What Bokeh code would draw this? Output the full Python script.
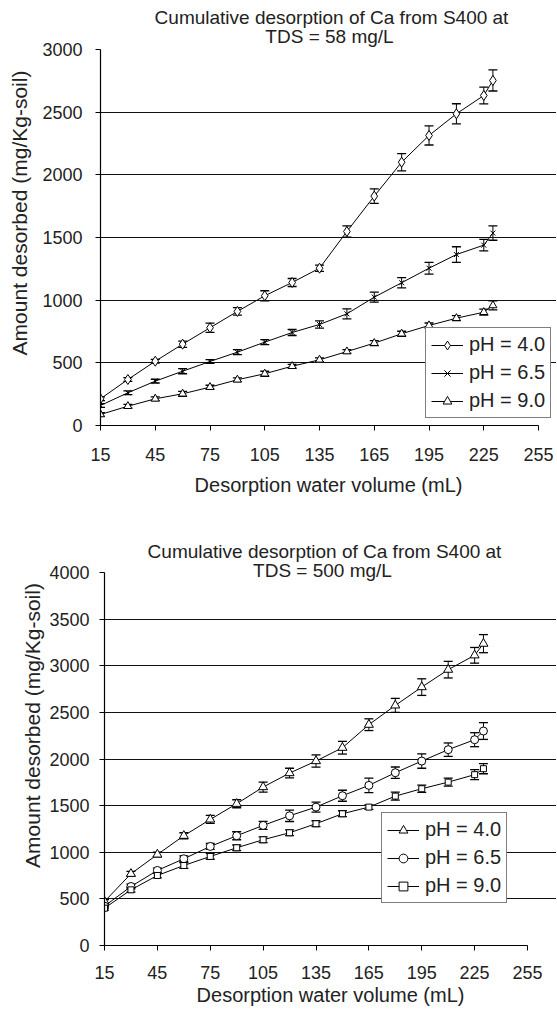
from bokeh.plotting import figure
from bokeh.models import (Range1d, FixedTicker, Whisker, TeeHead, ColumnDataSource,
                          Legend, LegendItem, Label, Title)
from bokeh.layouts import column
from bokeh.embed import file_html
from bokeh.resources import INLINE

FONT = "Liberation Sans"

# ---------------- data ----------------
volume = [15, 30, 45, 60, 75, 90, 105, 120, 135, 150, 165, 180, 195, 210, 225, 230]
x_ticks = [15, 45, 75, 105, 135, 165, 195, 225, 255]
labels = ["pH = 4.0", "pH = 6.5", "pH = 9.0"]

# TDS = 58 mg/L
top_ph40 = [213, 367, 513, 649, 780, 910, 1035, 1141, 1255, 1548, 1830, 2101, 2314, 2487, 2633, 2753]
top_ph40_err = [15, 15, 15, 25, 37, 30, 40, 32, 25, 45, 58, 69, 76, 80, 67, 84]
top_ph65 = [160, 261, 354, 433, 511, 585, 665, 742, 806, 891, 1024, 1139, 1255, 1364, 1439, 1535]
top_ph65_err = [15, 15, 15, 20, 15, 20, 20, 24, 29, 40, 40, 41, 47, 62, 46, 57]
top_ph90 = [88, 154, 213, 253, 306, 365, 413, 473, 524, 590, 657, 732, 798, 856, 904, 958]
top_ph90_err = [15, 15, 15, 20, 15, 15, 20, 15, 15, 15, 20, 20, 20, 20, 24, 36]
top_y_ticks = [0, 500, 1000, 1500, 2000, 2500, 3000]
top_grid = [500, 1000, 1500, 2000, 2500]

# TDS = 500 mg/L
bot_ph40 = [472, 769, 976, 1177, 1352, 1520, 1699, 1849, 1978, 2121, 2368, 2575, 2771, 2958, 3112, 3237]
bot_ph40_err = [20, 25, 25, 32, 43, 43, 54, 52, 66, 68, 63, 75, 89, 89, 84, 97]
bot_ph65 = [422, 633, 805, 930, 1062, 1177, 1288, 1391, 1484, 1606, 1717, 1853, 1978, 2100, 2207, 2300]
bot_ph65_err = [20, 25, 25, 32, 32, 43, 43, 61, 54, 59, 77, 61, 77, 72, 75, 90]
bot_ph90 = [400, 597, 751, 858, 955, 1048, 1134, 1209, 1306, 1413, 1484, 1602, 1681, 1752, 1832, 1896]
bot_ph90_err = [20, 25, 25, 30, 30, 30, 30, 30, 32, 32, 25, 43, 38, 43, 54, 54]
bot_y_ticks = [0, 500, 1000, 1500, 2000, 2500, 3000, 3500, 4000]
bot_grid = [500, 1000, 1500, 2000, 2500, 3000, 3500]


def make_chart(cfg):
    W = 556
    # plot area of the axes: left/right/top/bottom pixel edges inside the figure
    ax_l, ax_r, ax_t, ax_b = cfg["axes_px"]
    ymax = cfg["yticks"][-1]
    xr = 255 - 15
    x_end = 255 + (W - ax_r) * xr / (ax_r - ax_l)
    y_end = ymax + ax_t * ymax / (ax_b - ax_t)
    p = figure(width=W, height=cfg["height"], title=None,
               min_border_left=ax_l, min_border_right=0,
               min_border_top=0, min_border_bottom=cfg["height"] - ax_b,
               x_range=Range1d(15, x_end), y_range=Range1d(0, y_end),
               output_backend="svg", toolbar_location=None)
    p.frame_align = False
    p.outline_line_color = None
    p.background_fill_color = "white"
    p.border_fill_color = "white"
    p.xgrid.visible = False
    p.ygrid.ticker = FixedTicker(ticks=cfg["grid"])
    p.ygrid.grid_line_color = "#111111"
    p.ygrid.grid_line_width = 1.1
    p.ygrid.bounds = (15, 255)

    for ax in (p.xaxis, p.yaxis):
        ax.axis_line_color = "black"
        ax.axis_line_width = 1.2
        ax.major_tick_line_color = "black"
        ax.major_tick_in = 0
        ax.major_tick_out = 5
        ax.minor_tick_line_color = None
        ax.major_label_text_font = FONT
        ax.major_label_text_font_size = "18px"
        ax.major_label_text_color = "#222222"
    p.xaxis.bounds = (15, 255)
    p.yaxis.bounds = (0, ymax)
    p.xaxis.ticker = FixedTicker(ticks=x_ticks)
    p.yaxis.ticker = FixedTicker(ticks=cfg["yticks"])
    p.xaxis.major_label_standoff = cfg["xstand"]
    p.yaxis.major_label_standoff = cfg["ystand"]
    p.xaxis.axis_label = "Desorption water volume (mL)"
    p.xaxis.axis_label_text_font = FONT
    p.xaxis.axis_label_text_font_size = "20px"
    p.xaxis.axis_label_text_font_style = "normal"
    p.xaxis.axis_label_text_color = "#222222"
    p.xaxis.axis_label_standoff = cfg["xlabstand"]

    p.add_layout(Title(text="Amount desorbed (mg/Kg-soil)", align="center",
                       vertical_align=cfg["ylab_valign"],
                       offset=cfg["ylab_offset"], standoff=cfg["ylabstand"],
                       text_font=FONT, text_font_size="21px",
                       text_font_style="normal", text_color="#222222"), "left")

    items = []
    for vals, errs, lab, mk in zip(cfg["series"], cfg["errs"], labels, cfg["markers"]):
        src = ColumnDataSource(dict(
            x=volume, y=vals,
            upper=[v + e for v, e in zip(vals, errs)],
            lower=[v - e for v, e in zip(vals, errs)]))
        lr = p.line("x", "y", source=src, line_color="black", line_width=1)
        sr = p.scatter("x", "y", source=src, marker=mk["marker"], size=mk["size"],
                       fill_color=mk["fill"], line_color="black", line_width=1)
        w = Whisker(source=src, base="x", upper="upper", lower="lower",
                    line_color="black", line_width=1,
                    upper_head=TeeHead(size=9, line_color="black", line_width=1.3),
                    lower_head=TeeHead(size=9, line_color="black", line_width=1.3))
        p.add_layout(w)
        items.append(LegendItem(label=lab, renderers=[lr, sr]))

    leg = Legend(items=items, location=cfg["legend_loc"], margin=0,
                 padding=5, spacing=5, glyph_width=32, glyph_height=22,
                 label_height=22, label_standoff=6,
                 label_text_font=FONT, label_text_font_size="20px",
                 label_text_color="#222222",
                 border_line_color="black", border_line_width=1,
                 background_fill_color="white", background_fill_alpha=1)
    p.add_layout(leg)

    for txt, (x, y) in zip(cfg["title"], cfg["title_pos"]):
        p.add_layout(Label(x=x, y=y, x_units="screen", y_units="screen", text=txt,
                           text_align="center", text_baseline="alphabetic",
                           text_font=FONT, text_font_size="19px",
                           text_color="#222222"))
    return p


top_cfg = dict(
    height=505, axes_px=(99, 538, 49, 425),
    grid=top_grid, yticks=top_y_ticks, xstand=17, ystand=13, xlabstand=10,
    ylab_offset=-4, ylabstand=14, ylab_valign="top",
    series=[top_ph40, top_ph65, top_ph90],
    errs=[top_ph40_err, top_ph65_err, top_ph90_err],
    markers=[dict(marker="diamond", size=10, fill="white"),
             dict(marker="x", size=7, fill="black"),
             dict(marker="triangle", size=8, fill="white")],
    legend_loc=(325, 7),
    title=["Cumulative desorption of Ca from S400 at", "TDS = 58 mg/L"],
    title_pos=[(231, 408), (229, 389)],
)

bot_cfg = dict(
    height=510, axes_px=(104, 527, 67, 440),
    grid=bot_grid, yticks=bot_y_ticks, xstand=15, ystand=10, xlabstand=2,
    ylab_offset=-13, ylabstand=6, ylab_valign="bottom",
    series=[bot_ph40, bot_ph65, bot_ph90],
    errs=[bot_ph40_err, bot_ph65_err, bot_ph90_err],
    markers=[dict(marker="triangle", size=9, fill="white"),
             dict(marker="circle", size=8, fill="white"),
             dict(marker="square", size=6, fill="white")],
    legend_loc=(277, 42),
    title=["Cumulative desorption of Ca from S400 at", "TDS = 500 mg/L"],
    title_pos=[(220, 394), (218, 375)],
)

p1 = make_chart(top_cfg)
p2 = make_chart(bot_cfg)
layout = column(p1, p2, spacing=0)

open("out.html", "w").write(file_html(layout, INLINE))
